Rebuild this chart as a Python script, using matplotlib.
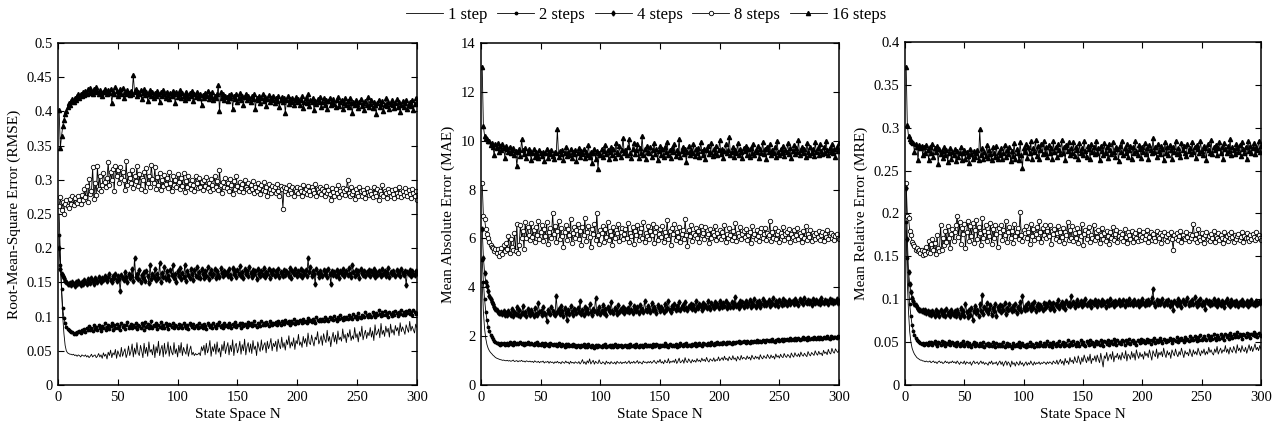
import numpy as np
import matplotlib
matplotlib.use("Agg")
import matplotlib.pyplot as plt
from matplotlib.ticker import FuncFormatter

plt.rcParams['font.family'] = ['Liberation Serif', 'DejaVu Serif']

labels = ['1 step', '2 steps', '4 steps', '8 steps', '16 steps']
x_ticks = [0, 50, 100, 150, 200, 250, 300]

# RMSE values in units of 0.001 (N = 1..300)
rmse_1 = [250,190,140,100,75,58,50,47,46,45,45,44,45,43,44,42,44,43,41,44,
          43,42,44,41,43,40,42,45,41,43,44,40,42,46,41,44,39,47,42,45,
          38,48,43,51,40,47,44,52,39,50,45,41,55,42,48,53,40,46,57,43,
          49,60,41,54,45,62,47,43,58,50,40,61,46,55,42,63,48,52,44,59,
          40,56,47,64,43,52,58,41,61,45,50,63,42,57,48,44,62,46,53,41,
          58,47,62,43,55,49,45,60,42,51,57,44,48,43,46,44,45,47,43,56,
          50,58,44,61,47,53,65,42,56,49,60,45,63,48,54,41,59,50,64,46,
          55,62,44,58,49,66,43,57,61,47,53,64,45,59,50,67,44,56,62,48,
          60,46,65,52,57,43,63,55,49,66,51,58,62,47,64,53,59,68,50,61,
          56,64,49,67,58,53,70,55,62,51,66,59,72,54,63,57,69,52,65,60,
          74,58,63,55,71,61,68,56,76,62,59,73,64,57,70,66,78,60,65,72,
          58,75,67,62,80,64,71,56,69,77,63,73,60,79,66,70,64,82,68,74,
          62,76,70,81,65,72,67,84,69,75,63,78,71,86,66,74,80,68,77,72,
          84,70,79,65,88,73,76,82,69,90,74,80,71,86,77,83,70,89,76,81,
          73,87,79,84,72,91,78,85,80,74,88,82,77,93,79,86,81,76,89,84]
rmse_2 = [220,175,140,112,98,90,85,82,80,79,78,77,75,76,74,78,77,79,76,80,
          79,82,78,84,80,86,81,83,79,87,82,85,80,88,83,79,86,84,90,81,
          85,88,82,86,91,80,87,84,89,83,86,81,90,85,88,82,87,92,84,86,
          89,83,87,85,91,82,88,86,84,90,87,81,92,85,89,83,86,93,84,88,
          86,90,82,87,85,92,83,88,84,91,86,82,89,87,85,90,83,88,86,84,
          89,85,87,83,91,86,84,88,82,90,87,85,89,84,86,88,83,91,85,87,
          84,89,86,82,90,87,85,88,83,91,86,84,89,87,92,85,88,84,90,86,
          88,85,91,87,84,89,86,92,85,88,87,90,84,91,86,89,88,85,92,87,
          90,86,88,93,87,85,91,89,86,94,88,90,87,92,89,86,93,90,88,91,
          89,92,87,94,90,88,93,91,89,95,92,90,94,88,93,91,96,89,92,94,
          91,95,93,90,97,92,94,91,98,93,95,92,96,94,91,99,95,93,97,94,
          96,93,99,95,97,94,100,96,98,95,101,97,94,99,96,102,98,95,100,97,
          99,96,103,98,100,97,104,99,101,96,105,100,98,103,101,99,106,102,100,104,
          101,99,107,103,100,105,102,110,104,101,106,103,108,102,105,100,107,104,101,106,
          103,108,105,101,107,104,109,102,106,103,108,105,110,104,107,103,109,106,104,105]
rmse_4 = [200,170,163,160,156,152,150,148,147,149,146,151,148,145,150,147,152,149,146,151,
          148,153,150,147,155,151,149,156,152,148,157,153,150,158,154,151,157,153,160,155,
          152,158,162,154,150,160,156,163,152,159,155,138,161,157,153,165,158,150,162,156,
          159,170,152,186,158,163,155,168,150,161,157,165,152,167,160,149,176,155,163,158,
          169,153,162,157,179,151,164,158,172,155,166,160,154,168,161,175,157,163,150,166,
          160,171,155,164,158,176,152,167,161,157,170,163,154,168,160,173,158,165,156,169,
          162,157,167,160,172,155,164,168,159,163,170,157,166,161,158,171,164,160,167,162,
          165,159,169,161,157,171,163,166,158,168,162,174,160,165,156,169,163,167,159,172,
          164,158,168,162,166,155,170,163,160,167,161,171,158,165,162,169,157,166,163,168,
          160,167,162,170,158,165,163,159,168,161,166,164,160,171,157,166,162,169,163,160,
          167,161,170,158,166,163,168,160,185,165,172,159,167,162,148,170,164,158,166,163,
          160,168,162,166,158,170,163,148,167,161,165,159,168,163,157,166,162,170,160,164,
          167,161,171,163,158,176,165,160,168,162,166,157,169,164,161,167,159,165,163,168,
          160,166,163,170,158,165,161,167,163,159,169,162,166,160,164,171,158,165,162,167,
          163,159,168,162,165,160,170,164,161,167,146,165,163,168,160,166,163,161,167,164]
rmse_8 = [262,275,256,268,250,264,270,262,259,272,265,277,263,274,268,266,276,271,264,278,
          270,286,275,291,268,301,279,283,318,272,296,278,320,287,305,283,293,310,297,289,
          302,326,293,311,300,316,284,320,305,315,296,318,303,312,299,285,328,292,309,302,
          295,314,288,306,298,320,291,308,286,303,299,312,284,317,295,306,290,322,301,296,
          318,287,304,293,310,285,299,291,307,294,302,288,311,296,283,305,292,300,289,309,
          297,286,303,291,310,282,298,289,305,294,287,300,292,284,306,295,288,302,290,297,
          285,299,291,304,288,296,283,301,293,287,306,290,298,285,314,292,280,297,289,303,
          288,296,284,301,292,279,298,287,305,291,283,297,288,294,282,300,290,286,296,284,
          293,287,298,281,290,284,296,288,279,292,285,297,283,290,277,294,286,281,291,285,
          289,280,294,284,277,291,286,258,290,283,288,279,293,285,281,290,276,287,283,289,
          280,288,284,276,292,282,287,279,291,283,278,289,285,281,294,277,286,282,290,279,
          287,283,276,291,281,285,279,270,288,282,277,286,280,292,275,284,279,288,283,278,
          286,300,281,276,290,279,284,272,287,281,277,289,283,276,285,280,274,288,282,278,
          284,279,275,289,281,277,286,270,283,279,292,276,284,280,273,287,282,277,285,279,
          274,286,281,277,290,280,275,284,278,288,282,276,285,279,273,287,281,277,284,270]
rmse_16 = [402,346,364,378,388,396,401,407,412,409,415,418,414,420,417,422,425,419,426,423,
           428,424,430,426,432,427,434,429,425,433,428,435,430,426,431,427,422,429,433,428,
           425,431,427,433,412,429,426,435,430,423,428,432,426,434,420,429,425,431,427,424,
           430,426,453,428,433,422,429,425,431,418,427,432,424,429,415,426,431,423,428,420,
           427,422,430,425,413,428,423,431,426,420,429,424,418,427,422,430,425,412,428,421,
           426,431,420,427,423,416,429,424,420,427,422,430,415,425,421,428,423,419,426,410,
           424,420,427,422,430,418,425,421,428,416,423,419,426,438,400,428,420,425,417,423,
           421,415,424,419,426,404,422,418,425,413,420,427,417,423,410,421,426,416,422,419,
           414,422,418,425,403,420,416,423,412,419,425,415,421,408,418,424,414,420,417,422,
           412,419,415,422,406,417,421,413,419,398,416,422,411,418,414,420,409,416,421,413,
           418,410,416,422,405,414,419,412,425,408,417,413,420,402,415,411,418,414,421,407,
           413,419,410,416,404,415,420,409,414,418,411,406,416,421,408,413,417,403,412,419,
           410,415,406,420,412,397,414,409,416,411,405,413,418,408,412,402,415,410,421,407,
           411,416,405,413,409,396,412,417,406,411,415,400,410,419,408,413,404,411,416,409,
           405,412,418,407,413,399,410,415,406,412,417,403,409,414,408,416,402,411,420,412]

# MAE values in units of 0.01
mae_1 = [420,300,230,190,165,150,140,133,128,122,118,113,110,108,106,104,103,101,102,100,
         99,101,98,100,97,99,102,96,98,100,95,99,97,101,96,98,94,99,97,95,
         98,94,97,92,99,95,93,97,91,96,94,98,90,95,93,97,89,96,92,94,
         88,95,91,97,90,93,87,96,92,89,98,91,94,86,97,90,93,88,95,91,
         89,96,86,93,104,88,95,84,99,90,107,86,94,101,85,97,91,88,103,90,
         87,95,91,84,98,89,93,86,96,90,88,94,85,97,91,89,95,87,93,90,
         96,88,92,99,87,94,90,97,89,93,100,88,95,91,86,98,92,94,89,96,
         91,97,89,94,101,92,88,99,93,105,90,96,87,102,94,91,108,89,97,93,
         100,92,106,88,97,110,91,95,103,89,112,96,92,107,98,90,104,95,101,93,
         108,97,102,94,110,99,105,96,113,100,94,107,102,98,111,96,104,100,115,99,
         106,112,101,118,104,109,99,116,107,103,120,105,111,98,117,108,102,121,106,113,
         110,104,119,108,114,102,122,111,106,118,109,115,104,124,112,107,120,113,109,125,
         115,108,123,112,118,106,127,114,120,110,126,116,112,129,118,113,125,119,111,131,
         120,114,132,121,117,128,115,135,123,118,130,122,116,137,125,119,133,127,121,140,
         128,122,138,126,131,120,142,129,135,124,146,132,127,150,136,130,148,139,133,145]
mae_2 = [512,420,350,300,265,238,220,205,195,188,182,176,172,170,168,165,172,166,170,163,
         168,172,165,174,167,170,164,176,169,173,166,171,175,168,172,165,170,167,174,169,
         166,172,168,163,171,166,174,162,169,165,172,167,160,170,164,168,161,173,166,163,
         169,162,167,158,171,164,160,168,163,157,166,161,169,159,164,160,167,158,163,156,
         165,160,154,163,158,166,157,162,155,168,160,156,164,159,153,162,157,165,158,161,
         156,163,158,166,154,161,159,164,155,162,157,167,160,154,163,158,165,156,161,159,
         164,157,162,155,166,160,158,163,156,168,161,157,164,159,162,156,167,160,158,165,
         159,163,156,166,161,158,169,162,157,165,160,163,158,170,161,164,157,166,162,159,
         165,160,168,157,163,161,170,164,158,166,162,171,160,165,163,159,168,164,172,161,
         167,163,170,165,161,173,166,168,162,171,167,164,174,169,165,172,168,175,166,170,
         173,168,176,171,167,174,170,177,172,169,178,173,170,176,174,179,171,177,174,180,
         175,172,181,176,173,182,177,174,180,178,184,175,181,179,176,185,180,178,183,186,
         179,184,181,187,182,178,186,183,189,180,185,188,182,187,184,190,186,183,191,185,
         188,184,192,186,189,194,185,190,187,195,188,191,186,196,190,187,193,189,197,191,
         190,195,188,197,192,189,198,193,191,199,194,190,200,195,192,198,196,193,201,197]
mae_4 = [640,520,460,420,405,385,365,350,338,330,320,312,305,300,296,293,298,290,302,288,
         296,285,303,291,287,310,283,299,292,318,286,305,281,295,322,289,300,284,312,293,
         287,308,296,281,315,292,288,334,297,302,285,318,294,290,263,308,296,289,320,303,
         292,286,365,298,310,289,325,302,284,316,295,268,309,291,322,298,287,313,305,294,
         317,299,342,291,305,286,321,300,310,294,333,297,288,311,302,358,295,308,318,290,
         304,327,296,312,285,319,306,298,340,301,293,315,308,290,326,299,312,304,321,296,
         310,303,317,298,336,307,295,322,311,302,318,294,329,305,313,299,344,308,301,324,
         312,297,336,305,318,309,294,327,314,303,321,311,299,332,306,317,342,309,298,325,
         315,330,306,322,313,338,307,319,327,311,341,316,305,324,318,333,312,328,309,345,
         320,314,331,323,308,337,318,326,315,343,321,311,334,325,317,339,322,330,314,342,
         327,319,336,324,345,316,332,328,321,340,318,335,362,324,331,317,344,326,338,320,
         334,342,323,330,347,319,336,327,352,321,339,332,345,318,333,353,326,341,328,337,
         346,324,339,331,358,327,343,335,322,348,337,329,351,333,344,326,340,349,332,338,
         345,330,352,336,341,327,350,338,344,331,355,339,334,347,336,342,328,353,340,335,
         348,337,343,330,356,341,336,349,338,345,332,352,340,347,335,344,339,350,337,342]
mae_8 = [826,690,680,640,620,600,585,572,565,560,548,555,541,558,530,545,562,538,575,548,
         580,555,610,542,598,565,553,622,547,660,540,575,655,603,632,556,668,600,645,614,
         592,662,607,635,584,648,612,671,598,626,653,589,640,608,667,576,625,644,603,703,
         618,650,585,632,672,597,641,609,565,628,655,593,637,612,681,580,624,648,601,636,
         660,598,629,573,645,612,684,590,627,651,604,566,638,619,660,593,705,612,578,634,
         622,651,586,640,605,667,592,629,613,574,648,603,635,621,659,588,626,642,597,617,
         639,601,664,587,624,610,648,577,632,615,656,594,627,641,603,668,586,622,609,650,
         598,631,614,660,583,626,645,592,619,637,604,652,586,625,611,675,596,629,573,642,
         617,660,592,628,604,647,585,620,636,599,679,612,571,634,608,655,589,624,615,642,
         601,630,586,651,613,624,597,645,608,619,583,638,602,627,614,649,592,621,607,635,
         598,628,611,654,587,620,603,642,615,592,631,606,662,589,623,610,645,597,618,630,
         604,637,592,615,626,583,649,608,619,597,634,611,588,625,641,602,617,644,595,622,
         612,670,589,626,603,641,596,619,631,587,624,609,648,593,617,628,601,639,585,620,
         607,633,592,616,644,598,622,611,586,629,603,651,594,618,607,636,589,624,612,598,
         621,604,632,595,614,627,590,618,606,635,597,612,624,601,616,593,609,620,603,598]
mae_16 = [1300,1060,1020,1012,1005,1000,998,982,990,975,940,985,970,990,952,978,960,985,972,930,
          980,968,955,975,948,962,970,940,958,895,952,965,938,1005,960,945,972,930,950,966,
          958,920,948,965,935,955,942,928,962,950,938,955,918,948,968,930,952,945,960,937,
          925,955,948,1048,932,958,944,962,920,950,975,938,955,942,968,928,952,946,962,918,
          950,972,935,958,944,966,928,955,940,984,932,952,910,948,965,925,958,884,950,940,
          968,935,958,982,944,962,925,955,975,940,968,930,992,952,945,978,935,960,1012,948,
          962,940,975,1005,950,928,968,992,945,960,985,930,972,950,1018,942,965,925,978,955,
          948,975,932,962,990,945,968,920,958,980,942,965,935,975,952,996,940,962,930,970,
          955,985,938,962,948,1008,932,958,975,945,968,912,955,980,940,962,950,985,938,965,
          948,972,935,995,958,942,968,925,962,980,945,955,992,938,965,950,978,942,960,1002,
          945,968,930,958,985,948,962,1015,940,955,975,935,960,948,990,942,968,955,928,972,
          958,980,942,965,935,972,950,988,940,962,955,978,930,965,950,995,945,968,925,975,
          952,985,940,962,948,975,932,1000,955,942,968,950,980,938,962,955,990,945,970,928,
          958,982,945,970,952,1002,940,962,975,948,965,935,990,955,942,975,950,968,938,995,
          952,970,940,985,958,945,975,950,1000,962,940,972,955,985,948,968,935,975,958,990]

# MRE values in units of 0.001
mre_1 = [180,120,85,62,50,43,39,36,34,32,31,30,29,29,28,28,27,28,27,27,
         28,26,27,28,26,27,25,27,28,26,27,25,26,28,26,27,25,27,26,28,
         26,27,25,28,26,24,27,26,25,28,24,27,26,25,27,23,26,28,25,26,
         27,24,26,28,25,27,24,26,25,23,27,25,28,24,26,25,27,23,26,28,
         24,27,22,26,28,23,27,25,21,28,24,26,22,27,25,23,28,24,26,22,
         25,27,23,26,24,28,25,23,27,24,26,25,27,24,26,25,27,26,24,27,
         25,27,26,24,28,26,25,29,24,27,30,25,28,23,31,26,28,24,32,27,
         29,25,33,28,26,34,29,24,32,27,35,30,26,33,28,36,25,31,29,34,
         27,35,30,26,37,29,21,34,31,38,28,33,36,30,39,27,34,32,37,30,
         35,29,38,33,31,40,28,36,34,30,39,32,37,29,41,35,31,38,33,36,
         30,39,34,37,32,41,35,29,40,36,33,42,31,38,35,39,33,43,36,32,
         40,35,38,31,41,37,34,42,36,33,39,35,43,37,32,40,36,38,34,42,
         37,33,41,36,39,35,43,38,34,40,37,42,35,39,36,44,38,41,37,35,
         42,38,45,36,40,43,37,41,39,46,38,42,36,44,40,38,45,41,37,47,
         40,43,38,46,41,39,44,37,42,47,40,45,39,43,48,41,44,40,46,42]
mre_2 = [190,148,118,94,80,70,63,58,55,53,51,50,49,48,49,47,48,49,47,50,
         48,50,47,49,51,48,46,50,49,47,51,48,50,46,49,48,51,47,49,50,
         47,49,46,50,48,45,49,47,51,46,48,50,45,49,47,44,48,50,46,49,
         47,45,49,48,46,50,44,48,47,49,45,48,46,50,47,44,49,46,48,45,
         48,46,50,44,47,49,45,48,46,43,49,47,45,48,46,50,44,47,49,45,
         47,44,48,46,50,45,48,47,44,49,46,48,45,50,47,46,49,45,48,51,
         46,49,47,44,50,48,45,49,47,51,46,48,50,45,49,47,52,46,48,50,
         47,51,48,45,50,49,46,52,48,50,47,45,51,49,47,53,48,50,46,49,
         51,48,50,47,53,49,46,51,50,48,52,47,49,51,48,54,50,47,52,49,
         50,48,53,51,47,52,50,49,54,48,51,53,49,50,47,52,51,49,54,50,
         52,49,51,54,50,53,48,52,51,55,49,53,50,52,55,51,49,54,52,50,
         53,51,55,52,49,54,53,51,56,50,54,52,55,53,50,56,52,54,51,57,
         53,55,52,57,54,51,56,53,58,52,55,57,54,52,58,55,53,57,54,59,
         55,53,58,56,54,59,55,57,53,60,56,58,54,61,57,55,59,56,58,62,
         56,59,57,54,60,58,56,61,57,59,55,60,58,62,57,59,56,61,58,57]
mre_4 = [230,170,132,118,108,102,98,95,93,91,89,88,87,86,88,85,87,84,86,83,
         85,82,86,84,80,87,83,85,81,88,84,82,86,80,89,83,85,81,87,84,
         82,86,80,88,84,79,90,83,86,81,95,85,79,88,82,90,76,86,92,84,
         88,81,94,86,105,83,91,87,96,84,89,93,82,90,86,95,80,91,88,93,
         85,92,88,96,83,90,87,94,89,86,92,88,95,84,91,89,97,86,104,90,
         87,93,89,96,91,88,94,90,97,86,92,95,89,93,91,88,96,90,94,92,
         97,89,94,91,96,88,95,92,99,90,93,97,91,95,89,98,93,96,92,104,
         94,97,91,96,99,93,95,98,92,97,94,100,93,96,95,98,91,97,94,99,
         95,92,98,96,93,99,94,97,91,98,96,93,100,95,97,92,98,94,96,99,
         93,97,95,99,92,98,96,94,100,95,97,93,99,96,94,98,92,97,95,100,
         96,93,98,95,99,94,97,101,112,96,92,99,95,98,94,97,100,93,96,98,
         95,99,92,97,94,88,98,96,93,100,95,97,91,99,96,94,98,101,93,97,
         95,99,94,103,96,92,98,95,100,93,97,94,89,99,96,98,93,97,95,100,
         94,97,92,99,96,93,98,95,91,97,100,94,96,92,99,95,97,93,98,96,
         92,97,95,99,93,96,94,98,92,97,95,99,94,96,93,98,95,97,96,98]
mre_8 = [236,197,195,180,175,167,164,162,158,160,156,157,154,158,152,156,153,161,155,168,
         154,165,170,158,166,153,175,160,156,187,158,172,163,180,167,185,171,160,176,182,
         168,178,186,197,173,190,165,183,176,188,160,179,191,168,185,174,189,166,181,192,
         170,184,177,163,195,172,180,186,168,179,174,189,165,182,171,187,176,161,183,178,
         186,169,181,175,191,167,178,184,172,180,166,188,174,179,183,170,202,175,168,181,
         177,185,171,179,164,188,174,182,169,176,184,172,191,178,167,183,175,186,171,180,
         174,187,165,180,176,182,170,177,185,168,179,173,183,166,178,175,190,169,181,172,
         185,168,177,171,183,166,179,174,188,163,176,181,170,178,184,167,175,172,186,169,
         178,173,181,166,175,183,170,177,168,180,174,165,179,172,184,169,176,181,167,174,
         179,171,176,168,182,173,166,178,175,170,180,167,174,177,171,168,181,175,169,173,
         178,170,175,181,167,173,179,169,176,172,168,180,174,171,177,166,175,179,170,174,
         168,176,172,179,170,158,175,171,177,169,174,180,167,175,172,170,178,173,168,176,
         171,175,188,170,176,167,182,173,169,177,172,166,175,179,170,174,168,176,172,180,
         167,174,171,177,169,175,172,166,178,170,174,168,176,171,179,173,167,175,170,174,
         176,169,173,178,167,174,171,177,172,168,175,170,176,173,169,178,172,175,171,169]
mre_16 = [371,303,290,287,285,283,282,272,281,278,262,280,276,279,268,277,271,280,274,262,
          278,270,281,266,276,272,279,258,275,269,273,265,277,268,274,260,271,276,263,272,
          268,275,261,273,266,271,278,262,270,274,264,272,267,259,275,269,263,273,266,271,
          274,262,298,268,276,263,272,267,280,265,274,269,262,277,271,266,279,264,272,268,
          276,263,271,280,266,274,269,278,261,273,267,282,264,275,270,262,283,268,253,276,
          272,281,265,277,270,284,263,276,272,286,267,279,264,274,281,269,285,271,277,266,
          280,270,276,263,284,272,278,266,281,274,269,286,271,277,262,280,273,283,268,276,
          271,283,267,278,274,264,282,270,276,268,285,273,266,279,275,263,281,272,277,269,
          284,271,276,262,279,273,268,282,270,277,265,281,274,269,283,272,266,278,275,261,
          279,272,285,268,276,271,281,266,274,279,263,277,270,284,273,268,280,275,265,278,
          272,282,269,276,264,280,274,270,288,272,277,266,281,273,269,279,275,262,283,271,
          277,268,280,274,263,278,272,285,269,276,271,266,282,274,279,270,267,281,273,276,
          269,283,272,278,265,280,275,270,284,273,268,279,276,262,281,274,271,286,269,277,
          274,280,268,276,283,271,277,264,282,275,270,279,273,287,268,278,274,269,281,276,
          272,280,267,283,275,270,278,264,284,273,279,271,276,282,269,277,274,285,272,279]

rmse = [np.array(v) / 1000 for v in (rmse_1, rmse_2, rmse_4, rmse_8, rmse_16)]
mae = [np.array(v) / 100 for v in (mae_1, mae_2, mae_4, mae_8, mae_16)]
mre = [np.array(v) / 1000 for v in (mre_1, mre_2, mre_4, mre_8, mre_16)]

# marker style per series (matlab look: black lines, small markers)
styles = [dict(marker='None'),
          dict(marker='.', ms=3.5, mfc='k', mec='k'),
          dict(marker='d', ms=2.6, mfc='k', mec='k'),
          dict(marker='o', ms=3.2, mfc='w', mec='k', mew=0.6),
          dict(marker='^', ms=3.0, mfc='k', mec='k')]

fig = plt.figure(figsize=(12.82, 4.32), dpi=100)

panels = [
    (rmse, 'Root-Mean-Square Error (RMSE)', 0.5, np.arange(0, 0.51, 0.05), [0.0452, 0.1088, 0.2800, 0.7917]),
    (mae, 'Mean Absolute Error (MAE)', 14, np.arange(0, 15, 2), [0.3752, 0.1088, 0.2793, 0.7917]),
    (mre, 'Mean Relative Error (MRE)', 0.4, np.arange(0, 0.41, 0.05), [0.7059, 0.1088, 0.2777, 0.7940]),
]

handles = []
for data, ylab, ytop, yt, pos in panels:
    ax = fig.add_axes(pos)
    lines = []
    for y, st in zip(data, styles):
        n = np.arange(1, len(y) + 1)
        ln, = ax.plot(n, y, color='k', lw=0.6, **st)
        lines.append(ln)
    handles = lines
    ax.set_xlim(0, 300)
    ax.set_ylim(0, ytop)
    ax.set_xticks(x_ticks)
    ax.set_yticks(yt)
    ax.yaxis.set_major_formatter(FuncFormatter(lambda v, p: '%g' % round(v, 3)))
    ax.tick_params(direction='in', top=True, right=True, length=4, width=0.8,
                   labelsize=10.5, pad=4)
    for s in ax.spines.values():
        s.set_linewidth(1.1)
    ax.set_xlabel('State Space N', fontsize=11, labelpad=3)
    ax.set_ylabel(ylab, fontsize=11, labelpad=4)

fig.legend(handles, labels, loc='center', bbox_to_anchor=(0.504, 0.965), ncol=5,
           frameon=False, fontsize=12, handlelength=2.2, handletextpad=0.3,
           columnspacing=0.6, borderaxespad=0)

plt.savefig('out.png', dpi=100)
